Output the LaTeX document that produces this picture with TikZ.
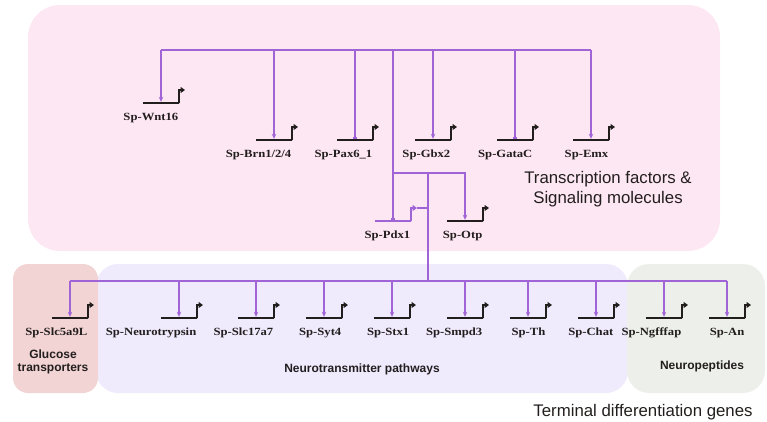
\documentclass[tikz,border=0pt]{standalone}
\usepackage{fontspec}
\setmainfont{Liberation Sans}
\newfontfamily\genefont[FakeStretch=1.15]{Liberation Serif}
\usepackage{tikz}
\usetikzlibrary{arrows.meta,positioning}
\definecolor{tfrosa}{RGB}{253,231,243}
\definecolor{ntlila}{RGB}{240,234,253}
\definecolor{glurojo}{RGB}{242,212,212}
\definecolor{npverde}{RGB}{237,240,234}
\definecolor{reglila}{RGB}{160,100,215}
\definecolor{genegris}{RGB}{35,30,30}

\begin{document}
\begin{tikzpicture}[x=1pt, y=-1pt, >=Stealth, line width=1.4pt,
    gene/.style={draw=genegris, line width=2.4pt, minimum width=36pt, minimum height=0pt,
                 inner sep=0pt, outer xsep=0pt, outer ysep=1.2pt},
    genlbl/.style={font=\genefont\bfseries\fontsize{11}{12}\selectfont, text=genegris,
                   anchor=base east, inner sep=0pt},
    reg/.style={reglila, line width=1.4pt},
    act/.style={reg, -{Stealth[length=5pt,width=4.5pt]}},
    rep/.style={reg, -{Bar[width=4pt]}},
    bent/.style={genegris, line width=2pt, -{Triangle[length=4.5pt,width=6pt]}},
    grp/.style={font=\bfseries\fontsize{12}{13.5}\selectfont, text=genegris, align=center}]
    \useasboundingbox (0,0) rectangle (767,421);
    \fill[tfrosa, rounded corners=32pt] (28,5) rectangle (720,251);
    \fill[ntlila, rounded corners=22pt] (96,264) rectangle (628,393);
    \fill[npverde, rounded corners=22pt] (627,264) rectangle (765,393);
    \fill[glurojo, rounded corners=15pt] (13,264) rectangle (98,393);
    \node[genegris, font=\fontsize{16.8}{20}\selectfont, align=center] (tfsm) at (608,189)
        {Transcription factors \&\\Signaling molecules};
    \node[grp] (glut) at (53,362) {Glucose\\transporters};
    \node[grp] (ntp) at (362,369) {Neurotransmitter pathways};
    \node[grp] (npep) at (702,366) {Neuropeptides};
    \node[genegris, font=\fontsize{16.8}{20}\selectfont] (tdg) at (643,412)
        {Terminal differentiation genes};
    \coordinate (topbus) at (0,50);
    \coordinate (midbus) at (0,173);
    \coordinate (lowbus) at (0,281);
    \coordinate (hub) at (428,173);
    \node[gene] (wnt16) at (161,103) {};
    \node[gene] (brn) at (274,140) {};
    \node[gene] (pax6) at (355,140) {};
    \node[gene] (gbx2) at (433,140) {};
    \node[gene] (gatac) at (515,140) {};
    \node[gene] (emx) at (591,140) {};
    \node[gene, draw=reglila, line width=2pt] (pdx1) at (393,221) {};
    \node[gene] (otp) at (465,221) {};
    \node[gene] (slc5) at (70,318) {};
    \node[gene] (ntryp) at (179,318) {};
    \node[gene] (slc17) at (256,318) {};
    \node[gene] (syt4) at (324,318) {};
    \node[gene] (stx1) at (392,318) {};
    \node[gene] (smpd3) at (465,318) {};
    \node[gene] (th) at (528,318) {};
    \node[gene] (chat) at (596,318) {};
    \node[gene] (ngf) at (664,318) {};
    \node[gene] (an) at (727,318) {};
    \foreach \g in {wnt16,brn,pax6,gbx2,gatac,emx,otp,slc5,ntryp,slc17,syt4,stx1,smpd3,th,chat,ngf,an}
        \draw[bent] (\g.east) -- ++(0,-13) -- ++(6,0);
    \foreach \g/\t in {wnt16/Sp-Wnt16, brn/Sp-Brn1\slash 2\slash 4, pax6/Sp-Pax6\_1, gbx2/Sp-Gbx2,
                       gatac/Sp-GataC, emx/Sp-Emx, pdx1/Sp-Pdx1, otp/Sp-Otp, slc5/Sp-Slc5a9L,
                       ntryp/Sp-Neurotrypsin, slc17/Sp-Slc17a7, syt4/Sp-Syt4, stx1/Sp-Stx1,
                       smpd3/Sp-Smpd3, th/Sp-Th, chat/Sp-Chat, ngf/Sp-Ngfffap, an/Sp-An}
        \node[genlbl] (\g-l) at ([yshift=-17pt]\g.east) {\t};
    \draw[reg] (wnt16 |- topbus) -- (emx |- topbus);
    \foreach \g in {wnt16,brn,gbx2,emx}
        \draw[act] (\g |- topbus) -- (\g);
    \foreach \g in {pax6,gatac,pdx1}
        \draw[rep] (\g |- topbus) -- (\g);
    \draw[act] (pdx1 |- midbus) -| (otp);
    \draw[reg] (hub) -- (hub |- lowbus);
    \draw[reg, line width=1.6pt, -{Triangle[length=4.5pt,width=6pt]}]
        (pdx1.east) -- ++(0,-13) -- ++(6,0) coordinate (pdx1tip);
    \draw[reg] (pdx1tip) -- (pdx1tip -| hub);
    \draw[reg] (slc5 |- lowbus) -- (an |- lowbus);
    \foreach \g in {slc5,ntryp,slc17,syt4,stx1,smpd3,th,chat,ngf,an}
        \draw[act] (\g |- lowbus) -- (\g);
\end{tikzpicture}
\end{document}
